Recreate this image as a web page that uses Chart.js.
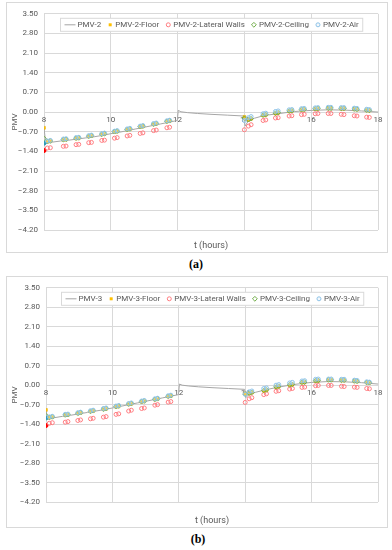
<!DOCTYPE html>
<html><head><meta charset="utf-8">
<script src="https://cdn.jsdelivr.net/npm/chart.js@4/dist/chart.umd.min.js"></script>
<style>
html,body{margin:0;padding:0;background:#fff;width:392px;height:550px;overflow:hidden;}
.frame{position:absolute;border:1px solid #d9d9d9;background:#fff;}
.frame canvas{display:block;}
.cap{position:absolute;font-family:'Liberation Serif','DejaVu Serif',serif;font-weight:bold;font-size:12px;color:#000;width:40px;text-align:center;}
</style></head>
<body>
<div class="frame" style="left:6px;top:2px;width:380px;height:249px;"><canvas id="c2" width="380" height="249"></canvas></div>
<div class="cap" style="left:176px;top:257px;">(a)</div>
<div class="frame" style="left:6px;top:276px;width:380px;height:250px;"><canvas id="c3" width="380" height="250"></canvas></div>
<div class="cap" style="left:178px;top:532px;">(b)</div>
<script>
// ---- data ----
const xTickHours = [8, 10, 12, 14, 16, 18];
const yTickValues = [3.5, 2.8, 2.1, 1.4, 0.7, 0, -0.7, -1.4, -2.1, -2.8, -3.5, -4.2];

const hoursLine = [8.0, 8.05, 8.25, 8.5, 8.75, 9.0, 9.25, 9.5, 9.75, 10.0, 10.25, 10.5, 10.75, 11.0, 11.25, 11.5, 11.75, 11.99, 12.02, 12.1, 12.3, 12.6, 13.0, 13.5, 13.98, 14.02, 14.1, 14.3, 14.6, 15.0, 15.5, 16.0, 16.5, 17.0, 17.5, 18.0];
const pmv2 = [-0.55, -1.10, -1.07, -1.03, -1.00, -0.96, -0.92, -0.88, -0.83, -0.77, -0.72, -0.66, -0.60, -0.54, -0.48, -0.42, -0.36, -0.30, 0.06, 0.01, -0.02, -0.05, -0.08, -0.11, -0.14, -0.50, -0.35, -0.22, -0.12, -0.06, 0.02, 0.06, 0.08, 0.07, 0.04, 0.00];
const pmv3 = [-0.89, -1.20, -1.17, -1.12, -1.08, -1.03, -0.98, -0.93, -0.88, -0.82, -0.76, -0.70, -0.64, -0.58, -0.52, -0.46, -0.40, -0.34, 0.04, 0.00, -0.03, -0.06, -0.09, -0.12, -0.15, -0.45, -0.35, -0.26, -0.17, -0.07, 0.03, 0.10, 0.13, 0.12, 0.09, 0.04];

const hoursMarkers = [8.0, 8.1, 8.19, 8.58, 8.66, 8.96, 9.04, 9.34, 9.42, 9.73, 9.81, 10.11, 10.19, 10.49, 10.57, 10.88, 10.96, 11.28, 11.36, 11.68, 11.76,
  14.0, 14.12, 14.2, 14.56, 14.64, 14.93, 15.01, 15.34, 15.42, 15.71, 15.79, 16.12, 16.2, 16.51, 16.59, 16.9, 16.98, 17.29, 17.37, 17.66, 17.74];

const pmv2Floor = [-0.56, -1.06, -1.04, -0.99, -0.98, -0.94, -0.93, -0.87, -0.85, -0.80, -0.78, -0.71, -0.69, -0.63, -0.61, -0.53, -0.51, -0.44, -0.42, -0.34, -0.32,
  -0.17, -0.28, -0.24, -0.12, -0.10, -0.05, -0.03, 0.03, 0.04, 0.08, 0.09, 0.11, 0.12, 0.13, 0.13, 0.12, 0.12, 0.10, 0.09, 0.06, 0.05];
const pmv2Walls = [-1.37, -1.28, -1.27, -1.22, -1.21, -1.16, -1.15, -1.09, -1.08, -1.01, -1.00, -0.93, -0.91, -0.85, -0.83, -0.76, -0.74, -0.66, -0.64, -0.56, -0.54,
  -0.63, -0.50, -0.45, -0.30, -0.28, -0.21, -0.20, -0.14, -0.13, -0.09, -0.08, -0.06, -0.05, -0.05, -0.05, -0.08, -0.09, -0.13, -0.14, -0.18, -0.19];
const pmv2Ceiling = [-0.94, -1.05, -1.03, -0.98, -0.97, -0.93, -0.92, -0.86, -0.84, -0.79, -0.77, -0.70, -0.68, -0.62, -0.60, -0.52, -0.50, -0.43, -0.41, -0.33, -0.31,
  -0.22, -0.27, -0.23, -0.11, -0.09, -0.04, -0.02, 0.04, 0.05, 0.09, 0.10, 0.12, 0.13, 0.14, 0.14, 0.13, 0.13, 0.11, 0.10, 0.07, 0.06];
const pmv2Air = [-1.11, -1.03, -1.01, -0.96, -0.95, -0.91, -0.90, -0.84, -0.82, -0.77, -0.75, -0.68, -0.66, -0.60, -0.58, -0.50, -0.48, -0.41, -0.39, -0.31, -0.29,
  -0.30, -0.20, -0.16, -0.06, -0.04, 0.02, 0.04, 0.08, 0.09, 0.12, 0.13, 0.15, 0.16, 0.17, 0.17, 0.16, 0.16, 0.14, 0.13, 0.10, 0.09];

const pmv3Floor = [-0.89, -1.17, -1.15, -1.08, -1.07, -1.02, -1.00, -0.95, -0.93, -0.87, -0.85, -0.78, -0.76, -0.69, -0.67, -0.60, -0.58, -0.52, -0.50, -0.41, -0.39,
  -0.30, -0.30, -0.27, -0.20, -0.18, -0.07, -0.05, 0.00, 0.02, 0.09, 0.10, 0.15, 0.16, 0.18, 0.18, 0.17, 0.17, 0.14, 0.13, 0.09, 0.08];
const pmv3Walls = [-1.45, -1.37, -1.35, -1.33, -1.31, -1.27, -1.25, -1.21, -1.19, -1.15, -1.13, -1.05, -1.03, -0.93, -0.90, -0.84, -0.82, -0.72, -0.70, -0.61, -0.59,
  -0.62, -0.49, -0.45, -0.34, -0.31, -0.22, -0.20, -0.14, -0.12, -0.08, -0.07, -0.02, -0.01, -0.01, -0.01, -0.04, -0.05, -0.07, -0.08, -0.12, -0.13];
const pmv3Ceiling = [-1.10, -1.16, -1.14, -1.07, -1.06, -1.01, -0.99, -0.94, -0.92, -0.86, -0.84, -0.77, -0.75, -0.68, -0.66, -0.59, -0.57, -0.51, -0.49, -0.40, -0.38,
  -0.32, -0.29, -0.26, -0.19, -0.17, -0.06, -0.04, 0.01, 0.03, 0.10, 0.11, 0.16, 0.17, 0.19, 0.19, 0.18, 0.18, 0.15, 0.14, 0.10, 0.09];
const pmv3Air = [-1.18, -1.14, -1.12, -1.05, -1.04, -0.99, -0.97, -0.92, -0.90, -0.84, -0.82, -0.75, -0.73, -0.66, -0.64, -0.57, -0.55, -0.49, -0.47, -0.38, -0.36,
  -0.33, -0.24, -0.21, -0.12, -0.10, 0.00, 0.02, 0.08, 0.10, 0.15, 0.16, 0.21, 0.22, 0.22, 0.22, 0.21, 0.21, 0.18, 0.17, 0.12, 0.11];

// ---- styles ----
const FONT = 'Roboto';
const TXT = '#595959';
const GRID = '#d9d9d9';
const C_LINE = '#a6a6a6', C_FLOOR = '#FFC000', C_WALL = '#FF7C80', C_WALL_FIRST = '#FF0000', C_CEIL = '#70AD47', C_AIR = '#8EC3E8', C_AIR_FILL = 'rgba(222,235,247,0.35)';

function pts(xs, ys){ return xs.map((x,i)=>({x:x, y:ys[i]})); }

function drawSym(ctx, sym, x, y){
  ctx.save();
  ctx.lineWidth = 1;
  if (sym === 'line'){ ctx.strokeStyle = C_LINE; ctx.beginPath(); ctx.moveTo(x, y); ctx.lineTo(x+11, y); ctx.stroke(); }
  else if (sym === 'floor'){ ctx.fillStyle = C_FLOOR; ctx.fillRect(x+1.5, y-1.5, 3, 3); }
  else if (sym === 'wall'){ ctx.strokeStyle = C_WALL; ctx.beginPath(); ctx.arc(x+3, y, 2, 0, Math.PI*2); ctx.stroke(); }
  else if (sym === 'ceil'){ ctx.strokeStyle = C_CEIL; ctx.beginPath(); ctx.moveTo(x+3, y-2.4); ctx.lineTo(x+5.4, y); ctx.lineTo(x+3, y+2.4); ctx.lineTo(x+0.6, y); ctx.closePath(); ctx.stroke(); }
  else if (sym === 'air'){ ctx.strokeStyle = C_AIR; ctx.fillStyle = C_AIR_FILL; ctx.beginPath(); ctx.arc(x+3, y, 2, 0, Math.PI*2); ctx.fill(); ctx.stroke(); }
  ctx.restore();
}

const boxLegend = {
  id: 'boxLegend',
  afterDraw(chart){
    const ctx = chart.ctx, ca = chart.chartArea;
    ctx.save();
    ctx.font = '8px ' + FONT;
    const items = chart.data.datasets.map(ds => ({text: ds.label, sym: ds.legendSym, tw: ctx.measureText(ds.label).width}));
    const padX = 4, gapST = 2, gapI = 6;
    let total = padX*2;
    items.forEach((it,i) => { it.sw = it.sym === 'line' ? 11 : 6; total += it.sw + gapST + it.tw + (i ? gapI : 0); });
    const left = Math.round((ca.left + ca.right)/2 - total/2) + 0.5;
    const top = ca.top + 4.5, h = 13;
    ctx.fillStyle = '#fff';
    ctx.fillRect(left, top, total, h);
    ctx.strokeStyle = GRID; ctx.lineWidth = 1;
    ctx.strokeRect(left, top, total, h);
    let x = left + padX;
    const cy = top + h/2;
    ctx.textBaseline = 'middle'; ctx.fillStyle = TXT;
    items.forEach((it,i) => {
      if (i) x += gapI;
      drawSym(ctx, it.sym, x, cy);
      x += it.sw + gapST;
      ctx.fillStyle = TXT;
      ctx.fillText(it.text, x, cy + 0.5);
      x += it.tw;
    });
    ctx.restore();
  }
};

function yFmt(v){ if (Math.abs(v) < 1e-9) return '0.00'; return (v < 0 ? '\u2212' : '') + Math.abs(v).toFixed(2); }

function makeChart(id, prefix, line, floor, walls, ceil, air, yAxisW, xTitleH){
  const firstFill = (c, base) => (ctx) => ctx.dataIndex === 0 ? c : base;
  new Chart(document.getElementById(id), {
    type: 'scatter',
    data: { datasets: [
      { label: prefix, legendSym: 'line', data: pts(hoursLine, line), showLine: true, borderColor: C_LINE, borderWidth: 1, pointRadius: 0, tension: 0, order: 4 },
      { label: prefix + '-Floor', legendSym: 'floor', data: pts(hoursMarkers, floor), pointStyle: 'rect', pointRadius: 2, backgroundColor: C_FLOOR, borderColor: '#E0A800', borderWidth: 0.5, order: 2 },
      { label: prefix + '-Lateral Walls', legendSym: 'wall', data: pts(hoursMarkers, walls), pointStyle: 'circle', pointRadius: 2, backgroundColor: firstFill(C_WALL_FIRST, 'rgba(0,0,0,0)'), borderColor: firstFill(C_WALL_FIRST, C_WALL), borderWidth: 1, order: 3 },
      { label: prefix + '-Ceiling', legendSym: 'ceil', data: pts(hoursMarkers, ceil), pointStyle: 'rectRot', pointRadius: 2.3, backgroundColor: 'rgba(0,0,0,0)', borderColor: C_CEIL, borderWidth: 1, order: 1 },
      { label: prefix + '-Air', legendSym: 'air', data: pts(hoursMarkers, air), pointStyle: 'circle', pointRadius: 2, backgroundColor: firstFill('#2E9BB8', C_AIR_FILL), borderColor: firstFill('#2E9BB8', C_AIR), borderWidth: 1, order: 0 }
    ]},
    options: {
      responsive: false, animation: false, events: [],
      layout: { padding: { top: 7, right: 9, left: 0, bottom: 0 } },
      plugins: { legend: { display: false }, tooltip: { enabled: false } },
      scales: {
        x: {
          type: 'linear', min: 8, max: 18, position: { y: 0 },
          afterBuildTicks: s => { s.ticks = xTickHours.map(v => ({ value: v })); },
          ticks: { color: TXT, font: { family: FONT, size: 8 }, padding: 3, maxRotation: 0, autoSkip: false, callback: v => String(v) },
          grid: { color: GRID, drawTicks: false, lineWidth: 1 },
          border: { display: false }
        },
        xt: {
          type: 'linear', min: 8, max: 18, position: 'bottom',
          afterFit: s => { s.height = xTitleH; },
          ticks: { display: false }, grid: { display: false, drawTicks: false }, border: { display: false },
          title: { display: true, text: 't (hours)', color: TXT, font: { family: FONT, size: 9 }, padding: { top: 0, bottom: 1 } }
        },
        y: {
          min: -4.2, max: 3.5,
          afterBuildTicks: s => { s.ticks = yTickValues.map(v => ({ value: v })); },
          afterFit: s => { s.width = yAxisW; },
          ticks: { color: TXT, font: { family: FONT, size: 8 }, padding: 6, callback: yFmt, autoSkip: false },
          grid: { color: GRID, drawTicks: false, lineWidth: 1 },
          border: { display: false },
          title: { display: true, text: 'PMV', color: TXT, font: { family: FONT, size: 8 }, padding: { top: 3, bottom: 0 } }
        }
      }
    },
    plugins: [boxLegend]
  });
}

makeChart('c2', 'PMV-2', pmv2, pmv2Floor, pmv2Walls, pmv2Ceiling, pmv2Air, 37, 22);
makeChart('c3', 'PMV-3', pmv3, pmv3Floor, pmv3Walls, pmv3Ceiling, pmv3Air, 39, 25);
</script>
</body></html>
